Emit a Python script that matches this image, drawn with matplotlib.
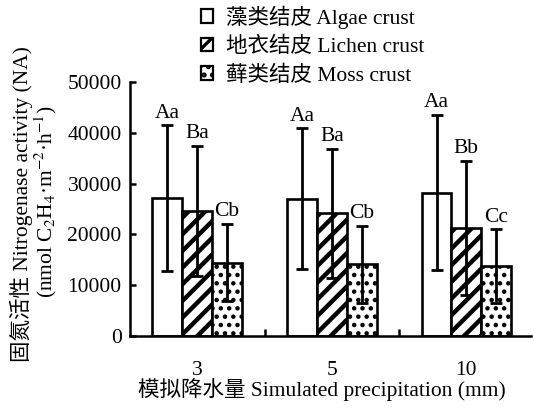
import matplotlib
matplotlib.use("Agg")
import matplotlib.pyplot as plt
from matplotlib.patches import Patch
import numpy as np

plt.rcParams['font.family'] = ['Liberation Serif', 'Noto Sans CJK SC']
plt.rcParams['mathtext.fontset'] = 'stix'
plt.rcParams['font.size'] = 15.5

# nitrogenase activity under simulated precipitation
precip = ['3', '5', '10']
crusts = ['藻类结皮 Algae crust', '地衣结皮 Lichen crust', '藓类结皮 Moss crust']
means = [
    [27100, 27000, 28200],   # algae
    [24600, 24200, 21300],   # lichen
    [14450, 14100, 13700],   # moss
]
errors = [
    [14400, 13900, 15300],
    [12800, 12700, 13200],
    [7600, 7600, 7300],
]
letters = [
    ['Aa', 'Aa', 'Aa'],
    ['Ba', 'Ba', 'Bb'],
    ['Cb', 'Cb', 'Cc'],
]
hatches = ['', '//', '..']
hatch_lw = [1.0, 3.2, 2.0]

fig = plt.figure(figsize=(5.34, 4.08), dpi=100)
ax = fig.add_axes([0.2434, 0.1765, 0.751, 0.6225])

x = np.arange(len(precip))
width = 0.222
offsets = [-width, 0, width]

for i in range(3):
    plt.rcParams['hatch.linewidth'] = hatch_lw[i]
    ax.bar(x + offsets[i], means[i], width, color='white', edgecolor='black',
           linewidth=1.9, hatch=hatches[i], zorder=2)
    ax.errorbar(x + offsets[i], means[i], yerr=errors[i], fmt='none',
                ecolor='black', elinewidth=2.0, capsize=4.5, capthick=2.0,
                zorder=3)
    for j in range(3):
        ax.text(x[j] + offsets[i], means[i][j] + errors[i][j] + 500,
                letters[i][j], ha='center', va='bottom')

ax.set_xlim(-0.5, 2.48)
ax.set_ylim(0, 50000)
ax.set_yticks(range(0, 50001, 10000))
ax.set_xticks(x)
ax.set_xticklabels(precip)
ax.set_xticks([0.5, 1.5], minor=True)
ax.tick_params(axis='x', which='major', length=0, pad=18)
ax.tick_params(axis='x', which='minor', direction='in', length=5, width=1.8)
ax.tick_params(axis='y', direction='in', length=4, width=1.8, pad=6)

for s in ['top', 'right']:
    ax.spines[s].set_visible(False)
for s in ['left', 'bottom']:
    ax.spines[s].set_linewidth(1.8)

fig.text(0.603, 0.045, '模拟降水量 Simulated precipitation (mm)',
         ha='center', va='center')
fig.text(0.040, 0.50, '固氮活性 Nitrogenase activity (NA)', rotation=90,
         ha='center', va='center')
fig.text(0.086, 0.505, r'(nmol C$_2$H$_4$·m$^{-2}$·h$^{-1}$)', rotation=90,
         ha='center', va='center')

handles = []
for i in range(3):
    plt.rcParams['hatch.linewidth'] = hatch_lw[i] * 1.2
    handles.append(Patch(facecolor='white', edgecolor='black', linewidth=1.6,
                         hatch=hatches[i], label=crusts[i]))
fig.legend(handles=handles, loc='upper left', bbox_to_anchor=(0.3475, 1.024),
           frameon=False, handlelength=0.58, handleheight=0.58,
           handletextpad=0.6, labelspacing=0.38, borderpad=0.2)

fig.savefig('out.png', dpi=100)
